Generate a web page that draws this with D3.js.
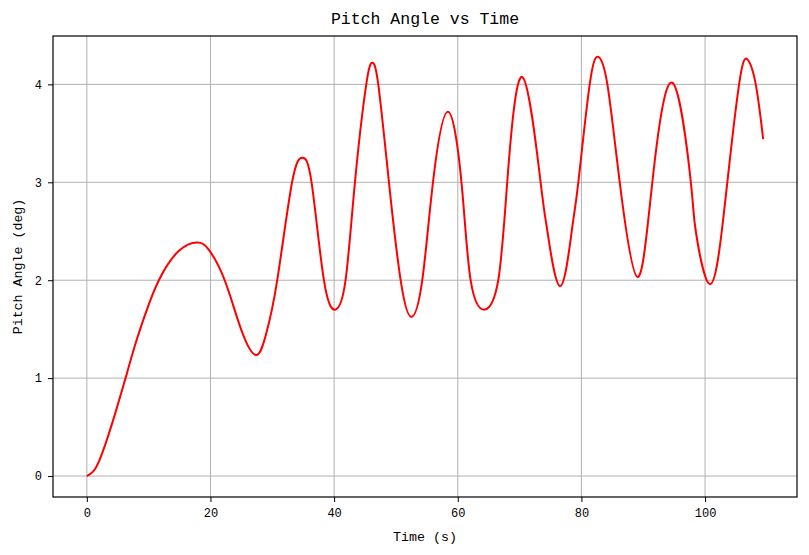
<html>
<head>
  <script src="https://d3js.org/d3.v7.min.js"></script>
  <style>
    body { margin: 0; background: #fff; }
    text { font-family: "Liberation Mono", "DejaVu Sans Mono", monospace; fill: #000; }
  </style>
</head>
<body>
  <svg id="chart"></svg>
  <script>
    // time (s) and pitch angle (deg)
    const time = [0, 1.0, 2.05, 3.4, 4.75, 6.26, 7.72, 9.33, 11.65, 14.9, 17.85, 19.74, 22.3, 25.0, 27.4,
      29.0, 30.8, 33.2, 34.84, 36.35, 38.35, 40.24, 41.85, 43.37, 45.2, 46.17, 47.14, 48.87, 50.76, 52.48,
      54.26, 55.99, 58.4, 60.6, 62.08, 64.35, 66.55, 68.0, 70.44, 73.4, 74.5, 76.54, 78.43, 79.5,
      81.34, 82.74, 84.2, 86.2, 89.05, 91.47, 94.7, 97.7, 98.5, 100.8, 102.7, 103.6, 105.5, 106.85,
      108.2, 109.4];
    const pitch = [0, 0.045, 0.163, 0.40, 0.673, 1.0, 1.32, 1.63, 2.0, 2.3, 2.385, 2.31, 2.0, 1.49, 1.235,
      1.45, 2.0, 3.0, 3.25, 3.0, 2.0, 1.70, 2.0, 3.0, 4.0, 4.22, 4.0, 3.0, 2.0, 1.625,
      2.0, 3.0, 3.72, 3.0, 2.0, 1.70, 2.0, 3.0, 4.075, 3.0, 2.5, 1.94, 2.5, 3.0,
      4.0, 4.28, 4.0, 3.0, 2.034, 3.0, 4.017, 3.0, 2.5, 1.96, 2.5, 3.0, 4.0, 4.255,
      4.0, 3.44];
    const xTicks = [0, 20, 40, 60, 80, 100];
    const yTicks = [0, 1, 2, 3, 4];

    const width = 809, height = 555;
    const margin = {top: 36, right: 12, bottom: 58, left: 53};
    const data = time.map((t, i) => ({t: t, v: pitch[i]}));

    // matplotlib-style 5% margins
    const [x0, x1] = d3.extent(time);
    const [y0, y1] = d3.extent(pitch);
    const px = (x1 - x0) * 0.05, py = (y1 - y0) * 0.05;

    const x = d3.scaleLinear().domain([x0 - px, x1 + px]).range([margin.left, width - margin.right]);
    const y = d3.scaleLinear().domain([y0 - py, y1 + py]).range([height - margin.bottom, margin.top]);

    const svg = d3.select('#chart').attr('width', width).attr('height', height);

    // grid
    svg.append('g').selectAll('line').data(xTicks).enter().append('line')
      .attr('x1', d => x(d)).attr('x2', d => x(d))
      .attr('y1', margin.top).attr('y2', height - margin.bottom)
      .attr('stroke', '#b0b0b0').attr('stroke-width', 1);
    svg.append('g').selectAll('line').data(yTicks).enter().append('line')
      .attr('y1', d => y(d)).attr('y2', d => y(d))
      .attr('x1', margin.left).attr('x2', width - margin.right)
      .attr('stroke', '#b0b0b0').attr('stroke-width', 1);

    // line
    const line = d3.line().x(d => x(d.t)).y(d => y(d.v)).curve(d3.curveNatural);
    svg.append('path').datum(data)
      .attr('d', line)
      .attr('fill', 'none')
      .attr('stroke', '#ff0000')
      .attr('stroke-width', 2);

    // axes
    const xAxis = svg.append('g')
      .attr('transform', `translate(0,${height - margin.bottom})`)
      .call(d3.axisBottom(x).tickValues(xTicks).tickFormat(d3.format('d')).tickSize(5).tickPadding(6));
    const yAxis = svg.append('g')
      .attr('transform', `translate(${margin.left},0)`)
      .call(d3.axisLeft(y).tickValues(yTicks).tickFormat(d3.format('d')).tickSize(5).tickPadding(6));
    [xAxis, yAxis].forEach(a => {
      a.select('.domain').remove();
      a.selectAll('text').style('font-size', '12px');
      a.selectAll('line').attr('stroke', '#000').attr('stroke-width', 1);
    });

    // frame
    svg.append('rect')
      .attr('x', margin.left).attr('y', margin.top)
      .attr('width', width - margin.left - margin.right)
      .attr('height', height - margin.top - margin.bottom)
      .attr('fill', 'none').attr('stroke', '#000').attr('stroke-width', 1.2);

    // labels
    const cx = (margin.left + width - margin.right) / 2;
    svg.append('text').attr('x', cx).attr('y', 24)
      .attr('text-anchor', 'middle').style('font-size', '16.5px')
      .text('Pitch Angle vs Time');
    svg.append('text').attr('x', cx).attr('y', 541)
      .attr('text-anchor', 'middle').style('font-size', '13.3px')
      .text('Time (s)');
    svg.append('text')
      .attr('transform', `translate(22,${(margin.top + height - margin.bottom) / 2}) rotate(-90)`)
      .attr('text-anchor', 'middle').style('font-size', '13.3px')
      .text('Pitch Angle (deg)');
  </script>
</body>
</html>
